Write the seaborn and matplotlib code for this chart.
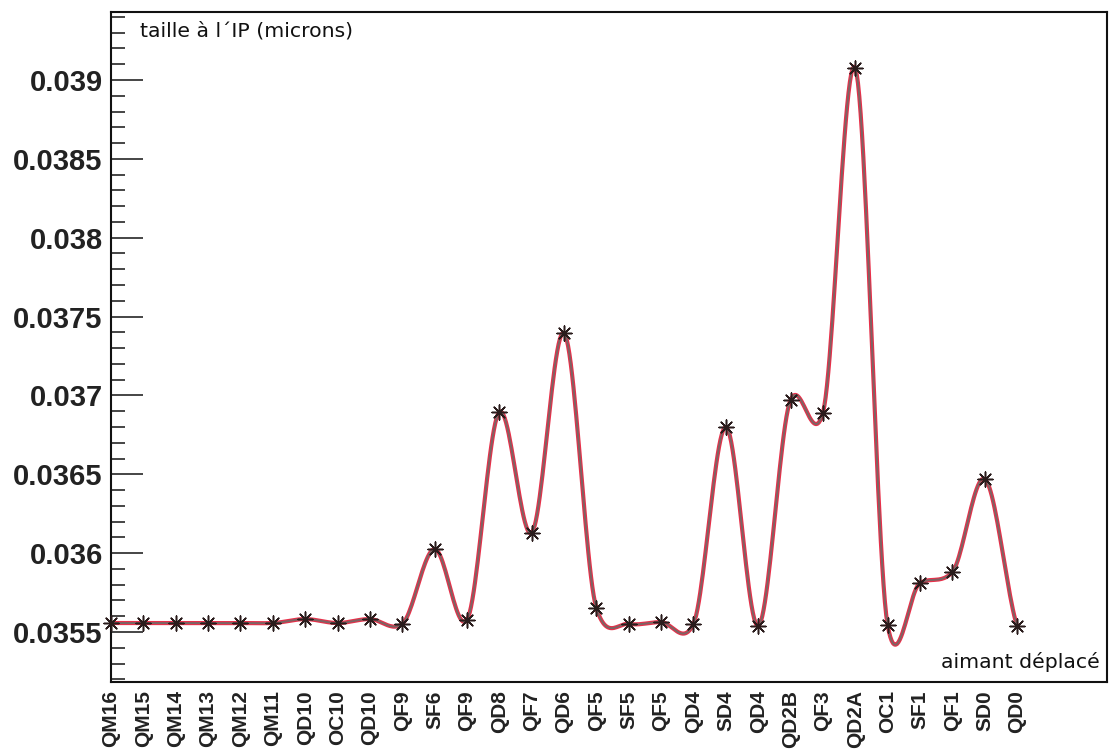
import numpy as np
import pandas as pd
import matplotlib
matplotlib.use("Agg")
import matplotlib.pyplot as plt
import seaborn as sns
from matplotlib.ticker import MultipleLocator, FuncFormatter

# ---- data ----
magnets = ["QM16", "QM15", "QM14", "QM13", "QM12", "QM11", "QD10", "OC10", "QD10",
           "QF9", "SF6", "QF9", "QD8", "QF7", "QD6", "QF5", "SF5", "QF5", "QD4",
           "SD4", "QD4", "QD2B", "QF3", "QD2A", "OC1", "SF1", "QF1", "SD0", "QD0"]
size_ip = [0.035557, 0.035557, 0.035557, 0.035557, 0.035557, 0.035557, 0.035582,
           0.035557, 0.035582, 0.035551, 0.036026, 0.035576, 0.036895, 0.036128,
           0.037396, 0.035652, 0.035551, 0.035563, 0.035551, 0.036800, 0.035538,
           0.036971, 0.036889, 0.039076, 0.035544, 0.035811, 0.035880, 0.036470,
           0.035538]
y_ticks = [0.0355, 0.036, 0.0365, 0.037, 0.0375, 0.038, 0.0385, 0.039]
y_title = "taille à l´IP (microns)"
x_title = "aimant déplacé"

df = pd.DataFrame({"pos": np.arange(len(magnets)), "taille": size_ip, "aimant": magnets})


def smooth_curve(x, y, n=24, tension=0.0):
    """Cardinal spline through the points, used only to draw the curve."""
    x = np.asarray(x, float)
    y = np.asarray(y, float)
    m = np.zeros_like(y)
    m[1:-1] = (1 - tension) * (y[2:] - y[:-2]) / 2.0
    m[0] = (1 - tension) * (y[1] - y[0])
    m[-1] = (1 - tension) * (y[-1] - y[-2])
    xs, ys = [], []
    for i in range(len(x) - 1):
        t = np.linspace(0, 1, n, endpoint=(i == len(x) - 2))
        h00 = 2 * t**3 - 3 * t**2 + 1
        h10 = t**3 - 2 * t**2 + t
        h01 = -2 * t**3 + 3 * t**2
        h11 = t**3 - t**2
        xs.append(x[i] + t * (x[i + 1] - x[i]))
        ys.append(h00 * y[i] + h10 * m[i] + h01 * y[i + 1] + h11 * m[i + 1])
    return np.concatenate(xs), np.concatenate(ys)


sx, sy = smooth_curve(df["pos"], df["taille"], tension=0.3)
curve = pd.DataFrame({"pos": sx, "taille": sy})

sns.set_style("ticks")
plt.rcParams["font.family"] = ["DejaVu Sans"]

fig = plt.figure(figsize=(11.09, 7.56), dpi=100)
ax = fig.add_axes([111 / 1109, 74 / 756, 996 / 1109, 670 / 756])

sns.lineplot(data=curve, x="pos", y="taille", ax=ax, color="#e8304a", lw=3.0,
             sort=False, estimator=None)
sns.lineplot(data=curve, x="pos", y="taille", ax=ax, color="#7d6464", lw=1.4,
             sort=False, estimator=None)
sns.scatterplot(data=df, x="pos", y="taille", ax=ax, marker=(8, 2, 0), s=115,
                color="#2a1c1c", linewidth=1.1, zorder=5, clip_on=False)

ax.set_xlim(0, 30.78)
ax.set_ylim(0.035183, 0.039431)

ax.set_xticks(df["pos"])
ax.set_xticklabels(magnets, rotation=90, fontfamily="Liberation Sans",
                   fontweight="bold", fontsize=15, color="#222222")
ax.tick_params(axis="x", length=0, pad=6)

ax.set_yticks(y_ticks)
ax.yaxis.set_major_formatter(FuncFormatter(lambda v, p: f"{v:g}"))
ax.yaxis.set_minor_locator(MultipleLocator(0.0001))
ax.tick_params(axis="y", which="major", direction="in", length=23, width=1.2,
               pad=6, labelsize=21, labelcolor="#222222")
ax.tick_params(axis="y", which="minor", direction="in", length=10, width=1.2)
for lab in ax.get_yticklabels():
    lab.set_fontfamily("Liberation Sans")
    lab.set_fontweight("bold")

for sp in ax.spines.values():
    sp.set_visible(True)
    sp.set_color("#111111")
    sp.set_linewidth(1.5)

ax.set_xlabel("")
ax.set_ylabel("")
fig.text(140 / 1109, 1 - 31 / 756, y_title, ha="left", va="center",
         fontsize=14.7, color="#111111")
fig.text(1100 / 1109, 1 - 662 / 756, x_title, ha="right", va="center",
         fontsize=14.7, color="#111111")

fig.savefig("out.png", dpi=100, facecolor="white")
